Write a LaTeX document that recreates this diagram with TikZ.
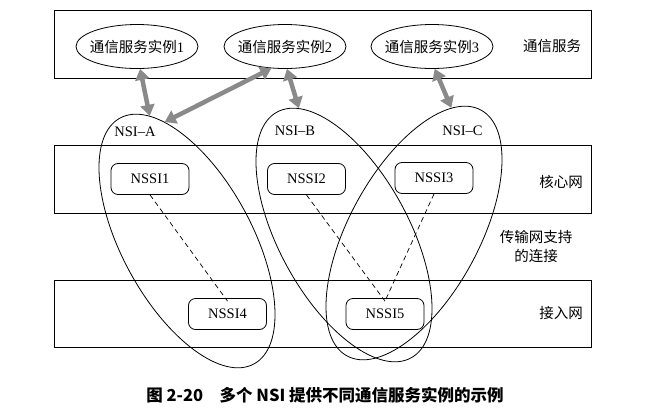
\documentclass[tikz,border=0pt]{standalone}
\usepackage{fontspec}
\setmainfont{Liberation Serif}
\newfontfamily\cjk{Noto Sans CJK SC}
\usetikzlibrary{shapes.geometric,arrows.meta}
\definecolor{arrowgray}{HTML}{8A8A8A}
\begin{document}
\begin{tikzpicture}[x=1pt,y=-1pt,
  txt/.style={font=\fontsize{14.5}{19}\selectfont, inner sep=0pt, align=center},
  svc/.style={ellipse, draw, line width=0.8pt, minimum width=122pt, minimum height=44pt, inner sep=0pt, font=\fontsize{14.5}{18}\selectfont},
  nssi/.style={draw, rounded corners=7pt, minimum width=78pt, minimum height=31pt, line width=0.8pt, inner sep=0pt, font=\fontsize{14.5}{18}\selectfont},
  nsi/.style={ellipse, draw, line width=0.8pt, minimum width=280pt, minimum height=130pt, inner sep=0pt},
  layer/.style={draw, line width=0.8pt},
  link/.style={draw, dash pattern=on 5pt off 3.5pt, line width=0.7pt},
  dbl/.style={draw=arrowgray, line width=4.5pt, {Triangle[width=14pt,length=11pt]}-{Triangle[width=14pt,length=11pt]}},
]
\useasboundingbox[fill=white] (0,0) rectangle (654,410);

% layers
\draw[layer] (54,10) rectangle (591,78);
\draw[layer] (54,145) rectangle (591,213);
\draw[layer] (54,280) rectangle (591,347);

% service instances
\node[svc] (s1) at (137,46.5) {\makebox[0pt]{{\cjk 通信服务实例}1}};
\node[svc] (s2) at (285,46.5) {\makebox[0pt]{{\cjk 通信服务实例}2}};
\node[svc] (s3) at (432,46.5) {\makebox[0pt]{{\cjk 通信服务实例}3}};
\node[txt] (lsvc) at (552,46.5) {\cjk 通信服务};

% NSSIs
\node[nssi] (n1) at (150,179) {NSSI1};
\node[nssi] (n2) at (306.5,179) {NSSI2};
\node[nssi] (n3) at (434,178) {NSSI3};
\node[nssi] (n4) at (227.5,314) {NSSI4};
\node[nssi] (n5) at (385,314) {NSSI5};

\node[txt] (lcore) at (561,181.5) {\cjk 核心网};
\node[txt] (ltrans) at (536,246) {\cjk 传输网支持\\\cjk 的连接};
\node[txt] (lacc) at (561,313.5) {\cjk 接入网};

% NSIs
\node[nsi, rotate=-61.4] (nsiA) at (187,241) {};
\node[nsi, rotate=-61.4] (nsiB) at (344,235) {};
\node[nsi, rotate=61.4] (nsiC) at (414,233) {};
\node[txt] (lA) at (135,132) {NSI--A};
\node[txt] (lB) at (295,131) {NSI--B};
\node[txt] (lC) at (462.5,131) {NSI--C};

% dashed connections
\draw[link] (n1.south) -- ([yshift=-3pt]n4.north);
\draw[link] (n2.south) -- ([yshift=-3pt]n5.north);
\draw[link] (n3.south) -- ([yshift=-3pt]n5.north);

% arrows
\draw[dbl] (s1.-82) -- (nsiA.168.9);
\draw[dbl] (s2.-122.5) -- (nsiA.162.4);
\draw[dbl] (s2.-85) -- (nsiB.171.6);
\draw[dbl] (s3.-83) -- (nsiC.12.9);

% caption
\node[inner sep=0pt, font=\fontsize{16.5}{18}\selectfont] (cap) at (325,395) {\cjk\bfseries 图 2-20\quad 多个 NSI 提供不同通信服务实例的示例};
\end{tikzpicture}
\end{document}
